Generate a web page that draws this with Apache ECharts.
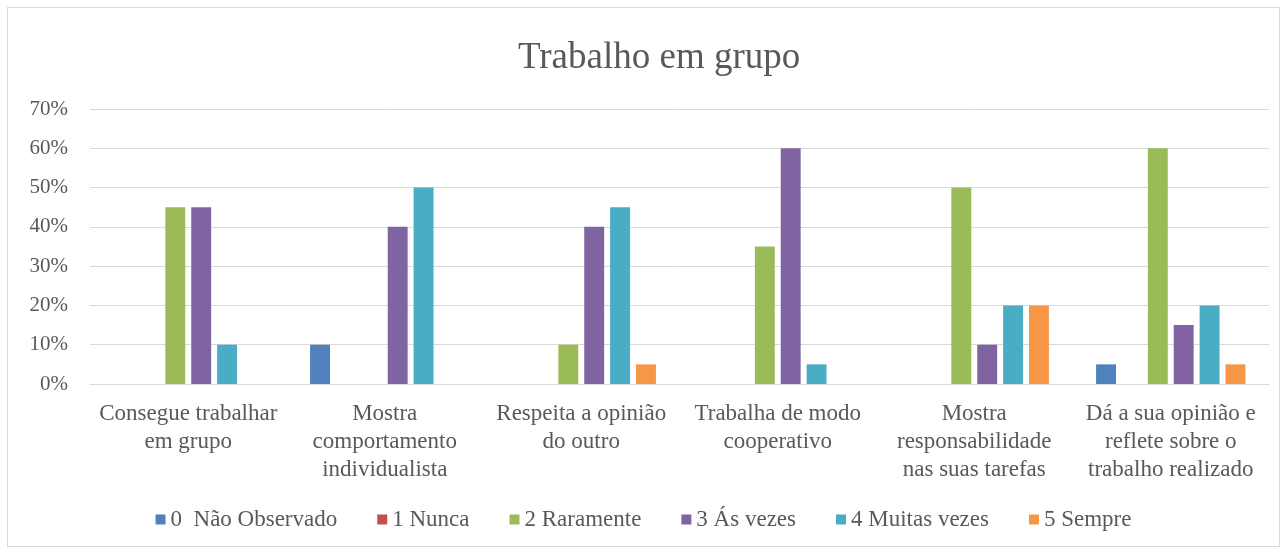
<!DOCTYPE html>
<html>
<head>
<meta charset="utf-8">
<script src="https://cdn.jsdelivr.net/npm/echarts@6/dist/echarts.min.js"></script>
<style>
  html, body { margin: 0; padding: 0; background: #fff; }
  #chart { position: absolute; left: 7px; top: 7px; width: 1273px; height: 540px; border: 1px solid #d9d9d9; box-sizing: border-box; }
</style>
</head>
<body>
<div id="chart"></div>
<script>
// categorias (eixo x)
var categorias = [
  'Consegue trabalhar\nem grupo',
  'Mostra\ncomportamento\nindividualista',
  'Respeita a opinião\ndo outro',
  'Trabalha de modo\ncooperativo',
  'Mostra\nresponsabilidade\nnas suas tarefas',
  'Dá a sua opinião e\nreflete sobre o\ntrabalho realizado'
];
var nomesSeries = ['0  Não Observado', '1 Nunca', '2 Raramente', '3 Ás vezes', '4 Muitas vezes', '5 Sempre'];
var cores = ['#4f81bd', '#c0504d', '#9bbb59', '#8064a2', '#4bacc6', '#f79646'];

// valores em %
var naoObservado = [0, 10, 0, 0, 0, 5];
var nunca = [0, 0, 0, 0, 0, 0];
var raramente = [45, 0, 10, 35, 50, 60];
var asVezes = [45, 40, 40, 60, 10, 15];
var muitasVezes = [10, 50, 45, 5, 20, 20];
var sempre = [0, 0, 5, 0, 20, 5];

var valores = [naoObservado, nunca, raramente, asVezes, muitasVezes, sempre];
var fonte = '"Liberation Serif", "DejaVu Serif", serif';

var myChart = echarts.init(document.getElementById('chart'));
var option = {
    animation: false,
    textStyle: { fontFamily: fonte },
    title: {
        text: 'Trabalho em grupo',
        left: 505,
        top: 27,
        textStyle: { fontFamily: fonte, fontSize: 37, fontWeight: 'normal', color: '#595959' }
    },
    legend: {
        bottom: 10,
        left: 'center',
        itemWidth: 10,
        itemHeight: 10,
        itemGap: 40,
        icon: 'rect',
        textStyle: { fontFamily: fonte, fontSize: 23, color: '#595959' },
        data: nomesSeries
    },
    grid: { left: 82, right: 10, top: 101, bottom: 162 },
    xAxis: {
        type: 'category',
        data: categorias,
        axisLine: { lineStyle: { color: '#d9d9d9' } },
        axisTick: { show: false },
        axisLabel: { interval: 0, fontFamily: fonte, fontSize: 23, color: '#595959', lineHeight: 28, margin: 16 }
    },
    yAxis: {
        type: 'value',
        min: 0,
        max: 70,
        interval: 10,
        axisLine: { show: false },
        axisTick: { show: false },
        splitLine: { lineStyle: { color: '#d9d9d9', width: 1 } },
        axisLabel: { formatter: '{value}%', fontFamily: fonte, fontSize: 21, color: '#595959', margin: 22 }
    },
    series: valores.map(function (v, i) {
        return {
            name: nomesSeries[i],
            type: 'bar',
            data: v,
            barGap: '30%',
            barCategoryGap: '24%',
            itemStyle: { color: cores[i] }
        };
    })
};
myChart.setOption(option);
</script>
</body>
</html>
